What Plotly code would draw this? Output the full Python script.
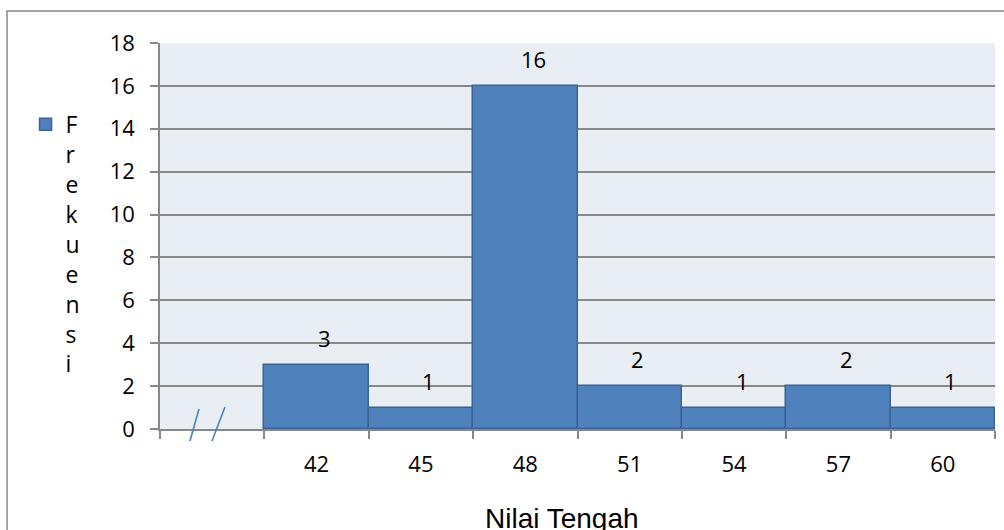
import plotly.graph_objects as go

# Frequency distribution by class midpoint
nilai_tengah = [42, 45, 48, 51, 54, 57, 60]
frekuensi = [3, 1, 16, 2, 1, 2, 1]
class_width = 3
series_name = "Frekuensi"
x_title = "Nilai Tengah"
y_ticks = [0, 2, 4, 6, 8, 10, 12, 14, 16, 18]

FONT = "'Open Sans', sans-serif"
TITLE_FONT = "'Liberation Sans', Arial, sans-serif"
BAR_FILL = "#4F81BD"
BAR_EDGE = "#3B6395"
GRID = "#888888"

half = class_width / 2
# class boundaries, with one empty class slot before the first class (broken axis)
x_lo = nilai_tengah[0] - class_width - half
x_hi = nilai_tengah[-1] + half
boundaries = [x_lo + i * class_width for i in range(len(nilai_tengah) + 2)]

fig = go.Figure()
fig.add_trace(go.Bar(
    x=nilai_tengah,
    y=frekuensi,
    width=[class_width] * len(nilai_tengah),
    name="<br>".join(series_name),
    marker=dict(color=BAR_FILL, line=dict(color=BAR_EDGE, width=1.5)),
    showlegend=True,
))

# value labels above each bar
for xv, yv in zip(nilai_tengah, frekuensi):
    fig.add_annotation(
        x=xv, y=yv, text=str(yv), showarrow=False,
        xref="x", yref="y", yshift=27, xshift=8,
        font=dict(family=FONT, size=22, color="#000000"),
    )

# axis title
fig.add_annotation(
    x=0.4820, y=-0.187, xref="paper", yref="paper",
    text=x_title, showarrow=False, xanchor="center", yanchor="top",
    font=dict(family=TITLE_FONT, size=28, color="#000000"),
)

# outer chart frame
fig.add_shape(
    type="rect", xref="paper", yref="paper",
    x0=-0.1832, x1=1.2, y0=-0.5, y1=1.083,
    line=dict(color="#888888", width=1.5), layer="below",
)

# broken-axis marks
for x0, y0, x1, y1 in [(0.0359, -0.0311, 0.0467, 0.0518),
                       (0.0623, -0.0311, 0.0778, 0.0570)]:
    fig.add_shape(
        type="line", xref="paper", yref="paper",
        x0=x0, y0=y0, x1=x1, y1=y1,
        line=dict(color=BAR_FILL, width=1.6),
    )

fig.update_layout(
    width=1004, height=530,
    margin=dict(l=160, r=9, t=43, b=101),
    paper_bgcolor="#FFFFFF",
    plot_bgcolor="#E9EDF4",
    bargap=0,
    font=dict(family=FONT, size=22, color="#000000"),
    legend=dict(
        x=-0.161, y=0.845, xanchor="left", yanchor="top",
        valign="top", bgcolor="rgba(0,0,0,0)",
        font=dict(family=FONT, size=23, color="#000000"),
        itemwidth=30, tracegroupgap=0,
    ),
    xaxis=dict(
        range=[x_lo, x_hi],
        tickmode="array", tickvals=nilai_tengah,
        ticktext=[str(v) for v in nilai_tengah],
        ticks="", ticklabelstandoff=15,
        showgrid=False, zeroline=False,
        showline=True, linecolor=GRID, linewidth=2,
        minor=dict(tickmode="array", tickvals=boundaries, ticks="outside",
                   ticklen=8, tickwidth=1.5, tickcolor=GRID, showgrid=False),
        tickfont=dict(family=FONT, size=22, color="#000000"),
        fixedrange=True,
    ),
    yaxis=dict(
        range=[0, 18],
        tickmode="array", tickvals=y_ticks,
        ticks="outside", ticklen=8, tickwidth=1.5, tickcolor=GRID,
        ticklabelstandoff=11,
        showgrid=True, gridcolor=GRID, gridwidth=1.5,
        zeroline=False,
        showline=True, linecolor=GRID, linewidth=1.5,
        tickfont=dict(family=FONT, size=22, color="#000000"),
        fixedrange=True,
    ),
)

fig.write_html("out.html")
